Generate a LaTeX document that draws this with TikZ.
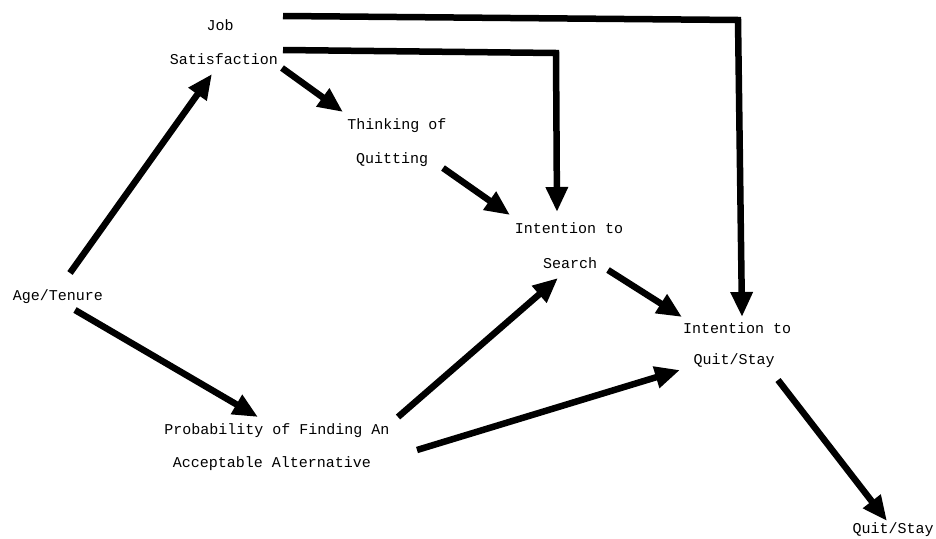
\documentclass[tikz,border=0pt]{standalone}
\usepackage{fontspec}
\setmonofont{Liberation Mono}
\usepackage{tikz}
\usetikzlibrary{arrows.meta}

\begin{document}
\begin{tikzpicture}[x=1pt,y=-1pt,
    lbl/.style={inner sep=0pt,font=\ttfamily\fontsize{15}{18}\selectfont},
    arr/.style={line width=6.5pt,-{Triangle[length=25pt,width=21pt]}}]
  \useasboundingbox (0,0) rectangle (936,538);
  % labels
  \node[lbl] (job) at (220,25) {Job};
  \node[lbl] (sat) at (224,59) {Satisfaction};
  \node[lbl] (think) at (397,126) {Thinking of};
  \node[lbl] (quit) at (392,160) {Quitting};
  \node[lbl] (ints) at (569,228) {Intention to};
  \node[lbl] (search) at (570,263) {Search};
  \node[lbl] (age) at (58,297) {Age/Tenure};
  \node[lbl] (intq) at (737,328) {Intention to};
  \node[lbl] (qs) at (734,361) {Quit/Stay};
  \node[lbl] (prob) at (277,431) {Probability of Finding An};
  \node[lbl] (acc) at (272,464) {Acceptable Alternative};
  \node[lbl] (final) at (893,530) {Quit/Stay};
  % arrows
  \draw[arr] ([shift={(12,-24)}]age.center) -- ([shift={(-12,15)}]sat.center);
  \draw[arr] ([shift={(17,13)}]age.center) -- ([shift={(-19,-14)}]prob.center);
  \draw[arr] ([shift={(58,9)}]sat.center) -- ([shift={(-54,-14)}]think.center);
  \draw[arr] ([shift={(51,8)}]quit.center) -- ([shift={(-59,-13)}]ints.center);
  \draw[arr] ([shift={(59,-9)}]sat.center) -- ([shift={(-13,-175)}]ints.center)
    -- ([shift={(-12,-16)}]ints.center);
  \draw[arr] ([shift={(63,-9)}]job.center) -- ([shift={(1,-308)}]intq.center)
    -- ([shift={(5,-11)}]intq.center);
  \draw[arr] ([shift={(38,7)}]search.center) -- ([shift={(-55,-11)}]intq.center);
  \draw[arr] ([shift={(121,-14)}]prob.center) -- ([shift={(-12,15)}]search.center);
  \draw[arr] ([shift={(145,-14)}]acc.center) -- ([shift={(-54,9)}]qs.center);
  \draw[arr] ([shift={(44,19)}]qs.center) -- ([shift={(-6,-9)}]final.center);
\end{tikzpicture}
\end{document}
